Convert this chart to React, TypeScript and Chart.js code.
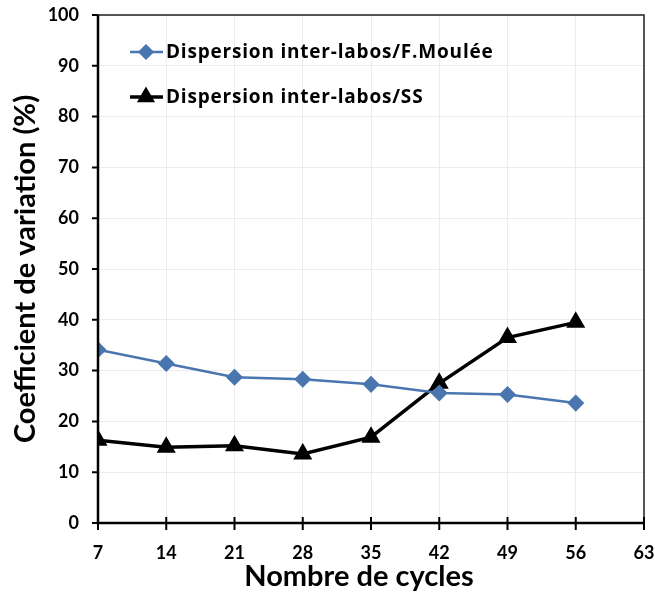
import React, { useEffect, useRef } from "react";
import { Chart, registerables } from "chart.js";

Chart.register(...registerables);

const cycles = [7, 14, 21, 28, 35, 42, 49, 56];
const moulee = [34.1, 31.4, 28.7, 28.3, 27.3, 25.6, 25.3, 23.6];
const ss = [16.3, 14.9, 15.2, 13.6, 16.9, 27.5, 36.5, 39.5];
const seriesNames = ["Dispersion inter-labos/F.Moulée", "Dispersion inter-labos/SS"];
const xTitle = "Nombre de cycles";
const yTitle = "Coefficient de variation (%)";

const FONT = "Lato";
const LEGEND_FONT = "'Open Sans'";
const BLUE = "#4a76b0";

function drawMarker(ctx: CanvasRenderingContext2D, style: string, r: number, x: number, y: number, color: string) {
  ctx.save();
  ctx.fillStyle = color;
  ctx.strokeStyle = color;
  ctx.lineWidth = 1.5;
  ctx.beginPath();
  if (style === "rectRot") {
    ctx.moveTo(x - r, y);
    ctx.lineTo(x, y - r);
    ctx.lineTo(x + r, y);
    ctx.lineTo(x, y + r);
  } else {
    const h = Math.sqrt(3) / 2;
    ctx.moveTo(x, y - r);
    ctx.lineTo(x + r * h, y + r / 2);
    ctx.lineTo(x - r * h, y + r / 2);
  }
  ctx.closePath();
  ctx.fill();
  ctx.stroke();
  ctx.restore();
}

const framePlugin = {
  id: "frame",
  afterDatasetsDraw(chart: any) {
    const { ctx, chartArea, scales } = chart;
    const { left, right, top, bottom } = chartArea;
    ctx.save();
    ctx.strokeStyle = "#222";
    ctx.lineWidth = 1.5;
    ctx.beginPath();
    ctx.moveTo(left, top);
    ctx.lineTo(right, top);
    ctx.lineTo(right, bottom);
    ctx.stroke();
    ctx.strokeStyle = "#000";
    ctx.lineWidth = 2.5;
    ctx.beginPath();
    ctx.moveTo(left, top);
    ctx.lineTo(left, bottom);
    ctx.lineTo(right, bottom);
    ctx.stroke();
    ctx.lineWidth = 2;
    ctx.beginPath();
    scales.y.ticks.forEach((t: any) => {
      const y = scales.y.getPixelForValue(t.value);
      ctx.moveTo(left - 6, y);
      ctx.lineTo(left, y);
    });
    scales.x.ticks.forEach((t: any) => {
      const x = scales.x.getPixelForValue(t.value);
      ctx.moveTo(x, bottom - 6);
      ctx.lineTo(x, bottom + 7);
    });
    ctx.stroke();
    ctx.restore();
  },
  afterDraw(chart: any) {
    const { ctx } = chart;
    ctx.save();
    // x axis title (Excel-like offset to the left)
    ctx.fillStyle = "#000";
    ctx.font = `bold 29px ${FONT}`;
    ctx.textAlign = "center";
    ctx.textBaseline = "middle";
    ctx.fillText(xTitle, 359, 577);

    const items = [
      { y: 52, color: BLUE, style: "rectRot", radius: 7, lw: 2.5 },
      { y: 97, color: "#000", style: "triangle", radius: 9, lw: 3.5 },
    ];
    items.forEach((it, i) => {
      ctx.strokeStyle = it.color;
      ctx.lineWidth = it.lw;
      ctx.beginPath();
      ctx.moveTo(130, it.y);
      ctx.lineTo(163, it.y);
      ctx.stroke();
      drawMarker(ctx, it.style, it.radius, 146, it.y, it.color);
      ctx.fillStyle = "#000";
      ctx.font = `bold 19px ${LEGEND_FONT}`;
      (ctx as any).letterSpacing = "0.8px";
      ctx.textBaseline = "middle";
      ctx.textAlign = "left";
      ctx.fillText(seriesNames[i], 166, it.y + 1);
      (ctx as any).letterSpacing = "0px";
    });
    ctx.restore();
  },
};

const zeroPad = (s: any) => {
  s.paddingLeft = 0;
  s.paddingRight = 0;
  s.paddingTop = 0;
  s.paddingBottom = 0;
};

export default function App() {
  const ref = useRef<HTMLCanvasElement | null>(null);
  useEffect(() => {
    if (!ref.current) return;
    const chart = new Chart(ref.current, {
      type: "line",
      data: {
        datasets: [
          {
            label: seriesNames[0],
            data: cycles.map((c, i) => ({ x: c, y: moulee[i] })),
            borderColor: BLUE,
            backgroundColor: BLUE,
            borderWidth: 2.5,
            pointStyle: "rectRot",
            pointRadius: 7.5,
            pointBorderWidth: 1.5,
            pointBorderColor: BLUE,
            pointBackgroundColor: BLUE,
          },
          {
            label: seriesNames[1],
            data: cycles.map((c, i) => ({ x: c, y: ss[i] })),
            borderColor: "#000",
            backgroundColor: "#000",
            borderWidth: 3.5,
            pointStyle: "triangle",
            pointRadius: 9.5,
            pointBorderWidth: 1.5,
            pointBorderColor: "#000",
            pointBackgroundColor: "#000",
          },
        ],
      },
      options: {
        responsive: false,
        animation: false,
        layout: { padding: { top: 15, right: 11, left: 0, bottom: 0 } },
        plugins: { legend: { display: false }, tooltip: { enabled: false } },
        scales: {
          x: {
            type: "linear",
            min: 7,
            max: 63,
            afterFit: (s: any) => { s.height = 74; zeroPad(s); },
            ticks: {
              stepSize: 7,
              color: "#000",
              padding: 19,
              font: { family: FONT, size: 18, weight: "bold" },
            },
            grid: { color: "#ececec", lineWidth: 1, drawTicks: false },
            border: { display: false },
            title: { display: false, text: xTitle },
          },
          y: {
            min: 0,
            max: 100,
            afterFit: (s: any) => { s.width = 98; zeroPad(s); },
            ticks: {
              stepSize: 10,
              color: "#000",
              padding: 19,
              font: { family: FONT, size: 18, weight: "bold" },
            },
            grid: { color: "#ececec", lineWidth: 1, drawTicks: false },
            border: { display: false },
            title: {
              display: true,
              text: yTitle,
              color: "#000",
              font: { family: FONT, size: 29, weight: "bold" },
              padding: { top: 8, bottom: 0 },
            },
          },
        },
      },
      plugins: [framePlugin],
    } as any);
    return () => chart.destroy();
  }, []);
  return (
    <div style={{ position: "fixed", left: 0, top: 0, width: 655, height: 597, background: "#fff" }}>
      <canvas ref={ref} width={655} height={597} style={{ width: 655, height: 597 }} />
    </div>
  );
}
